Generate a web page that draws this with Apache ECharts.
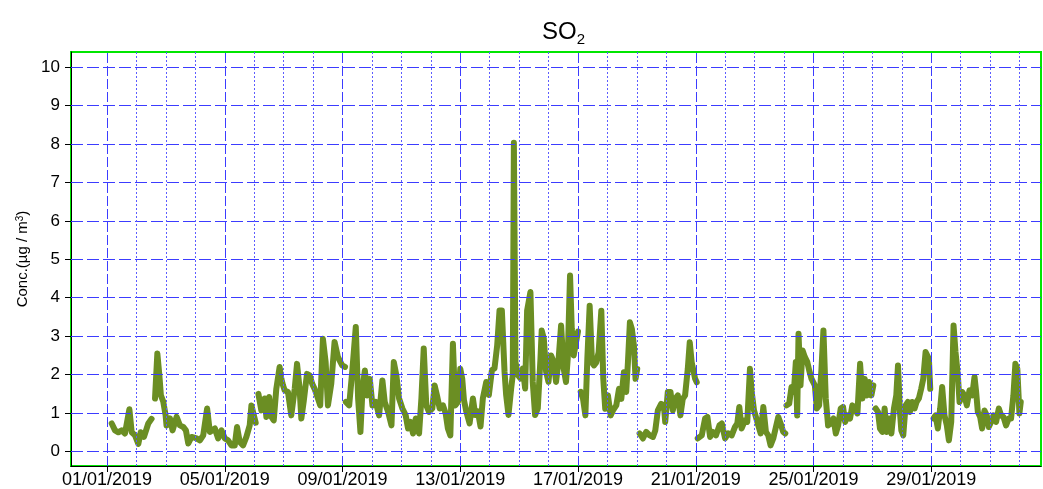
<!DOCTYPE html>
<html lang="en" style="height: 100%">
<head>
  <meta charset="utf-8">
</head>
<body style="height: 100%; margin: 0; background: #fff">
  <div id="container" style="width: 1043px; height: 489px"></div>

  <script type="text/javascript" src="https://cdn.jsdelivr.net/npm/echarts@6/dist/echarts.min.js"></script>

  <script type="text/javascript">
    // hours since 01/01/2019 00:00 and SO2 concentration (ug/m3); null = gap in record
    var hours = [
      3.8, 6.5, 9.2, 11.9, 14.6, 18.2, 20.1, 22.8, 25.5, 27.4, 30.1, 33.6, 36.3, 37.7,
      39.1, 41.0, 42.6, 43.9, 45.8, 47.7, 48.5, 51.3, 53.4, 56.7, 59.4, 62.1, 64.3, 66.2, 68.9,
      73.0, 75.7, 78.4, 81.6, 83.8, 87.9, 90.6, 93.3, 96.0, 98.7, 101.4, 104.1, 106.0, 108.2,
      110.9, 113.6, 116.3, 117.7, 121.2, 122.3,
      123.4, 125.8, 128.5, 129.9, 132.1, 134.0, 135.9, 138.0, 140.7, 142.1, 143.5, 144.8, 147.5,
      150.2, 153.0, 154.9, 157.0, 158.4, 160.3, 163.0, 165.2, 167.3, 169.2, 171.1, 173.8, 176.0,
      178.2, 180.1, 182.8, 185.5, 188.2, 189.6, 191.7, 194.0, 194.3,
      194.7, 197.4, 200.1, 202.8, 204.7, 206.6, 208.3, 210.2, 212.1, 214.2, 216.4, 219.1, 221.8,
      224.5, 226.4, 229.2, 231.9, 233.8, 235.9, 238.1, 240.8, 243.5, 245.4, 247.3, 249.5, 251.7,
      254.4, 256.3, 258.2, 260.3, 262.5, 265.2, 267.1, 269.0, 271.2, 273.9, 276.1, 277.9, 279.9,
      282.0, 283.9, 286.1, 288.0, 289.6, 291.0, 292.9, 295.6, 298.3, 300.2, 302.4, 304.5, 306.4,
      309.2, 311.3, 313.8, 315.9, 318.1, 320.0, 321.9, 324.1, 325.4, 327.3, 329.5, 330.8, 331.7,
      333.0, 334.9, 337.1, 339.0, 340.9, 342.5, 345.2, 347.1, 349.0, 351.2, 353.4, 354.4, 356.1,
      358.0, 359.9, 362.0, 364.2, 366.1, 368.0, 370.2, 372.3, 374.2, 375.6, 377.5, 378.9, 380.5,
      382.4, 384.0, 385.2,
      386.2, 388.1, 390.0, 391.6, 393.5, 395.4, 397.0, 398.9, 400.8, 403.0, 404.6, 406.2, 408.4,
      410.6, 412.5, 415.2, 417.4, 419.3, 421.4, 423.3, 424.7, 426.3, 427.9, 429.6, 430.9, 432.3, 433.2,
      434.2, 436.9, 439.6, 442.4, 445.1, 447.0, 449.1, 451.8, 454.0, 455.1, 457.2, 459.4, 461.3,
      463.2, 465.4, 467.5, 469.4, 471.3, 473.5, 475.1, 476.7, 478.4, 479.5, 480.8, 481.2,
      481.6, 484.9, 487.6, 489.5, 491.7, 493.8, 496.5, 499.3, 501.2, 503.9, 506.6, 509.3, 512.0,
      513.9, 515.5, 517.4, 520.1, 522.0, 524.2, 525.6, 527.5, 529.1, 531.0, 532.9, 535.1, 537.2,
      539.1, 541.0, 543.2, 545.4, 547.3, 549.2, 551.3, 553.0, 553.5,
      554.0, 556.2, 558.1, 560.0, 561.6, 562.7, 563.8, 565.4, 567.1, 568.9, 570.9, 572.5, 574.4,
      576.0, 577.1, 578.7, 580.6, 582.5, 584.1, 586.0, 587.9, 590.1, 592.3, 594.2, 596.1, 598.2,
      600.1, 601.8, 603.7, 605.8, 607.7, 609.6, 611.8, 614.0, 615.9, 617.8, 619.4, 621.3, 623.2,
      624.8, 625.7,
      626.7, 628.6, 630.2, 632.1, 634.0, 635.7, 637.6, 639.5, 641.6, 643.5, 644.9, 646.5, 647.6,
      649.2, 651.1, 653.0, 654.6, 656.5, 658.4, 660.1, 661.9, 663.8, 665.5, 667.4, 668.7, 670.1,
      671.2, 672.5,
      673.9, 675.5, 677.4, 679.3, 680.9, 682.8, 684.7, 686.4, 688.3, 690.2, 691.8, 693.7, 695.1,
      697.2, 699.1, 701.0, 703.2, 705.4, 707.3, 708.6, 710.0, 711.9, 713.5, 715.4, 717.3, 718.9,
      720.8, 722.7, 724.9, 727.1, 729.0, 730.9, 733.0, 735.2, 737.1, 739.0, 740.6, 742.2, 743.9, 745.0
    ];
    var conc = [
      0.73, 0.55, 0.5, 0.55, 0.47, 1.1, 0.5, 0.42, 0.2, 0.5, 0.38, 0.73, 0.85, null,
      1.38, 2.55, 2.0, 1.46, 1.3, 0.95, 0.68, 0.86, 0.55, 0.9, 0.68, 0.64, 0.55, 0.21, 0.38,
      0.34, 0.29, 0.42, 1.12, 0.51, 0.6, 0.34, 0.55, 0.34, 0.29, 0.16, 0.16, 0.64, 0.25,
      0.16, 0.38, 0.68, 1.2, 0.75, null,
      1.5, 1.07, 1.38, 0.9, 1.42, 0.9, 0.81, 1.63, 2.2, 1.89, 1.72, 1.59, 1.55,
      0.94, 1.63, 2.28, 1.63, 0.86, 1.29, 2.02, 1.98, 1.76, 1.63, 1.46, 1.2, 2.93,
      2.33, 1.2, 1.76, 2.85, 2.46, 2.37, 2.24, 2.2, null,
      1.29, 1.2, 2.15, 3.24, 1.38, 0.51, 1.63, 2.11, 1.46, 1.89, 1.2, 1.29, 0.94,
      1.85, 1.29, 1.03, 0.68, 2.33, 1.98, 1.38, 1.12, 0.94, 0.6, 0.77, 0.47, 0.86,
      0.47, 1.38, 2.68, 1.2, 1.03, 1.12, 1.72, 1.46, 1.12, 1.2, 0.99, 0.6, 0.42,
      2.8, 1.2, 1.29, 2.15, 1.89, 1.34, 1.04, 0.73, 1.38, 0.95, 1.04, 0.65, 1.38,
      1.81, 1.47, 2.12, 2.16, 2.76, 3.67, 3.67, 2.07, 1.47, 0.95, 1.64, 1.99, 8.03,
      2.33, 1.99, 1.9, 2.16, 1.64, 3.67, 4.15, 1.81, 0.95, 1.12, 2.42, 3.15, 2.94,
      2.07, 1.81, 2.5, 2.33, 1.81, 2.33, 3.28, 2.16, 1.81, 2.42, 4.58, 3.2, 2.5,
      2.85, 3.12, null,
      1.55, 1.37, 0.94, 2.41, 3.79, 2.32, 2.24, 2.32, 2.58, 3.66, 1.89, 1.11, 1.46,
      0.94, 1.07, 1.2, 1.63, 1.37, 2.06, 1.55, 2.32, 3.36, 3.19, 2.75, 1.89, 2.15, null,
      0.47, 0.34, 0.51, 0.42, 0.38, 0.55, 1.07, 1.24, 1.2, 0.77, 1.55, 1.55, 1.07,
      1.37, 1.46, 0.94, 1.37, 1.46, 2.15, 2.84, 2.32, 2.06, 1.89, 1.8, null,
      0.34, 0.42, 0.86, 0.9, 0.38, 0.51, 0.42, 0.68, 0.73, 0.34, 0.47, 0.42, 0.64,
      0.73, 1.16, 0.6, 0.81, 0.77, 2.15, 1.55, 1.07, 1.03, 0.68, 0.47, 1.16, 0.51,
      0.42, 0.16, 0.34, 0.64, 0.9, 0.73, 0.51, 0.47, null,
      1.2, 1.25, 1.68, 1.55, 2.33, 0.94, 3.06, 1.72, 2.63, 2.46, 2.33, 2.11, 1.89,
      1.89, 1.72, 1.12, 1.2, 2.15, 3.15, 1.38, 0.68, 0.73, 0.86, 0.47, 0.68, 1.12,
      1.16, 0.77, 0.94, 0.86, 1.2, 1.12, 0.99, 2.28, 1.38, 1.89, 1.46, 1.81, 1.46,
      1.72, null,
      1.12, 1.03, 0.6, 0.51, 1.12, 0.51, 0.86, 0.47, 1.12, 1.46, 2.24, 1.03, 0.55,
      0.42, 1.2, 1.29, 1.03, 1.29, 1.12, 1.29, 1.38, 1.63, 1.89, 2.59, 2.59, 2.41,
      1.63, null,
      0.86, 0.94, 0.6, 1.12, 1.68, 0.94, 0.68, 0.29, 0.77, 3.28, 2.59, 1.98, 1.29,
      1.55, 1.46, 1.2, 1.59, 1.46, 1.94, 1.55, 1.03, 0.9, 0.6, 1.07, 0.94, 0.64,
      0.77, 0.94, 0.77, 1.12, 0.94, 0.9, 0.68, 0.86, 0.86, 1.46, 2.28, 2.15, 0.99, 1.29
    ];
    // labelled date ticks, every 4 days from 01/01/2019 (hours)
    var majorHours = [0, 96, 192, 288, 384, 480, 576, 672];
    var dateLabels = ['01/01/2019', '05/01/2019', '09/01/2019', '13/01/2019',
      '17/01/2019', '21/01/2019', '25/01/2019', '29/01/2019'];
    var dayHours = [];
    for (var d = 0; d <= 31; d++) dayHours.push(d * 24);
    var yTicks = [0, 1, 2, 3, 4, 5, 6, 7, 8, 9, 10];

    var dom = document.getElementById('container');
    var myChart = echarts.init(dom, null, { renderer: 'canvas' });

    var FONT = 'Liberation Sans';
    var BLUE = '#3c3cff';

    var seriesData = hours.map(function (h, i) {
      return [h, conc[i] == null ? '-' : conc[i]];
    });

    var gridLines = [];
    yTicks.forEach(function (v) {
      gridLines.push({ yAxis: v, lineStyle: { color: BLUE, width: 1, type: [12, 4] } });
    });
    dayHours.forEach(function (h) {
      var major = majorHours.indexOf(h) >= 0;
      gridLines.push({
        xAxis: h,
        lineStyle: major
          ? { color: BLUE, width: 1, type: [10, 3] }
          : { color: '#5c5cff', width: 1, type: [2, 2] }
      });
    });

    var option = {
      animation: false,
      backgroundColor: '#fff',
      title: {
        text: 'SO{s|2}',
        left: 537,
        top: 12,
        textStyle: {
          fontFamily: FONT,
          fontSize: 24,
          fontWeight: 'normal',
          color: '#000',
          lineHeight: 30,
          rich: {
            s: { fontFamily: FONT, fontSize: 15, lineHeight: 15, verticalAlign: 'bottom', color: '#000' }
          }
        }
      },
      grid: {
        left: 71,
        right: 2,
        top: 52,
        bottom: 21.5,
        show: true,
        borderColor: '#00e600',
        borderWidth: 2,
        backgroundColor: '#fff'
      },
      xAxis: {
        type: 'value',
        min: -29.4,
        max: 761.5,
        axisLine: { show: true, onZero: false, lineStyle: { color: '#000', width: 1 } },
        axisTick: { show: true, length: 6, customValues: majorHours, lineStyle: { color: '#000' } },
        axisLabel: {
          customValues: majorHours,
          margin: 5,
          fontFamily: FONT,
          fontSize: 18,
          color: '#000',
          formatter: function (v) {
            var i = majorHours.indexOf(Math.round(v));
            return i >= 0 ? dateLabels[i] : '';
          }
        },
        splitLine: { show: false }
      },
      yAxis: {
        type: 'value',
        min: -0.376,
        max: 10.39,
        name: 'Conc.(µg / m{sup|3})',
        nameLocation: 'middle',
        nameGap: 41,
        nameTextStyle: {
          fontFamily: FONT,
          fontSize: 15,
          color: '#000',
          rich: { sup: { fontFamily: FONT, fontSize: 10, verticalAlign: 'top', color: '#000' } }
        },
        axisLine: { show: true, onZero: false, lineStyle: { color: '#000', width: 1 } },
        axisTick: { show: true, length: 6, customValues: yTicks, lineStyle: { color: '#000' } },
        axisLabel: {
          customValues: yTicks,
          margin: 11,
          fontFamily: FONT,
          fontSize: 17,
          color: '#000'
        },
        splitLine: { show: false }
      },
      series: [
        {
          type: 'line',
          name: 'grid',
          z: 1,
          silent: true,
          data: [],
          markLine: {
            silent: true,
            symbol: 'none',
            animation: false,
            label: { show: false },
            emphasis: { disabled: true },
            data: gridLines
          }
        },
        {
          type: 'line',
          name: 'SO2',
          z: 3,
          data: seriesData,
          showSymbol: false,
          connectNulls: false,
          lineStyle: { color: '#6b8e23', width: 6, cap: 'round', join: 'round' },
          itemStyle: { color: '#6b8e23' }
        }
      ]
    };

    myChart.setOption(option);
    window.addEventListener('resize', myChart.resize);
  </script>
</body>
</html>
